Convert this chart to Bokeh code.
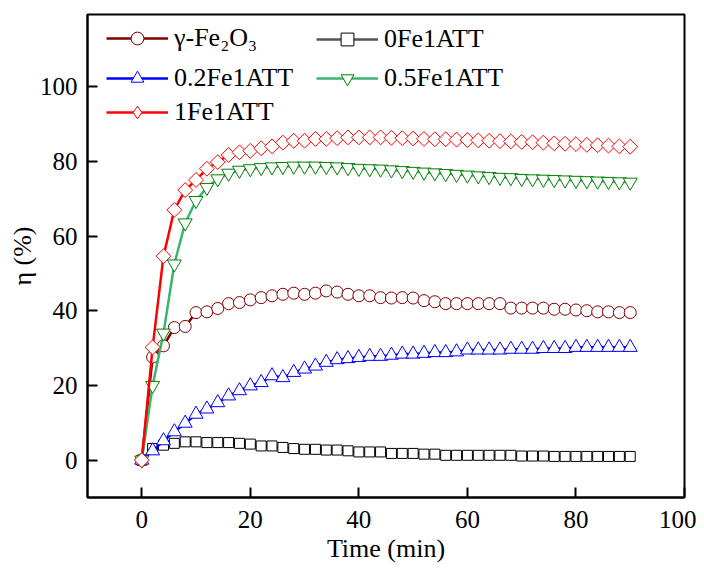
import numpy as np
from bokeh.plotting import figure
from bokeh.models import Legend, LegendItem, Range1d, FixedTicker
from bokeh.embed import file_html
from bokeh.resources import INLINE

# ---- data ----
time_min = [0, 2, 4, 6, 8, 10, 12, 14, 16, 18, 20, 22, 24, 26, 28, 30, 32, 34, 36,
            38, 40, 42, 44, 46, 48, 50, 52, 54, 56, 58, 60, 62, 64, 66, 68, 70, 72,
            74, 76, 78, 80, 82, 84, 86, 88, 90]

gamma_fe2o3 = [0, 27.6, 30.6, 35.5, 35.8, 39.5, 39.7, 40.6, 41.9, 42.2, 42.9, 43.5, 44.0,
               44.4, 44.7, 44.4, 44.7, 45.3, 45.0,
               44.4, 44.0, 44.0, 43.5, 43.4, 43.5, 43.4, 42.7, 42.4, 41.9, 41.9, 41.9,
               41.9, 41.9, 41.9, 40.7, 40.7, 40.7, 40.7, 40.4, 40.4, 40.2, 40.0, 39.7,
               39.7, 39.5, 39.5]

fe0_att = [0, 3.1, 4.0, 4.5, 4.9, 4.9, 4.7, 4.7, 4.7, 4.5, 4.3, 3.8, 3.8, 3.4, 3.1, 2.9,
           2.9, 2.7, 2.7,
           2.5, 2.2, 2.2, 2.2, 1.8, 1.8, 1.8, 1.6, 1.6, 1.3, 1.3, 1.3, 1.3, 1.3, 1.3,
           1.3, 1.1, 1.1, 1.1, 1.0, 1.0, 1.0, 1.0, 1.0, 1.0, 1.0, 1.0]

fe02_att = [0, 2.5, 5.2, 7.6, 9.9, 12.3, 13.7, 15.4, 17.2, 18.6, 19.9, 20.8, 22.6, 22.1,
            23.5, 24.4, 25.2, 26.2, 26.9,
            27.2, 27.5, 27.8, 27.8, 28.1, 28.4, 28.4, 28.6, 28.8, 28.8, 29.0, 29.5,
            29.5, 29.5, 29.5, 29.7, 29.7, 29.7, 29.9, 29.9, 29.9, 30.2, 30.2, 30.2,
            30.2, 30.2, 30.2]

fe05_att = [0, 20.0, 34.0, 52.5, 63.5, 69.5, 73.0, 75.3, 76.8, 77.6, 78.0, 78.3, 78.5,
            78.6, 78.7, 78.7, 78.7, 78.6, 78.5,
            78.3, 78.1, 78.0, 77.9, 77.7, 77.5, 77.3, 77.1, 76.9, 76.7, 76.5, 76.3,
            76.1, 75.9, 75.7, 75.6, 75.4, 75.3, 75.2, 75.1, 75.0, 74.9, 74.8, 74.7,
            74.6, 74.5, 74.4]

fe1_att = [0, 30.2, 54.6, 67.0, 72.3, 75.0, 78.0, 79.8, 81.7, 82.4, 82.8, 83.5, 84.0,
           85.0, 85.5, 85.5, 86.0, 86.0, 86.2,
           86.4, 86.4, 86.4, 86.4, 86.3, 86.2, 86.1, 86.0, 85.9, 85.9, 85.8, 85.7,
           85.6, 85.5, 85.4, 85.3, 85.2, 85.1, 85.0, 84.8, 84.7, 84.6, 84.4, 84.3,
           84.2, 84.0, 83.9]

x_ticks = [0, 20, 40, 60, 80, 100]
y_ticks = [0, 20, 40, 60, 80, 100]

series_labels = ["γ-Fe₂O₃", "0Fe1ATT", "0.2Fe1ATT", "0.5Fe1ATT", "1Fe1ATT"]

FONT = "Liberation Serif"
FRAME_W, FRAME_H = 597, 483
TOP = 14

p = figure(frame_width=FRAME_W, frame_height=FRAME_H, output_backend="svg",
           toolbar_location=None,
           x_range=Range1d(-10, 100), y_range=Range1d(-10, 119.3),
           min_border_left=87, min_border_right=12, min_border_top=TOP,
           min_border_bottom=0)
p.grid.visible = False
p.outline_line_color = "black"
p.outline_line_width = 2
p.background_fill_color = "white"
p.border_fill_color = "white"

for ax in (p.xaxis[0], p.yaxis[0]):
    ax.axis_line_width = 2
    ax.axis_line_color = "black"
    ax.major_tick_line_width = 2
    ax.major_tick_line_color = "black"
    ax.major_tick_in = 10
    ax.major_tick_out = 0
    ax.minor_tick_in = 0
    ax.minor_tick_out = 0
    ax.major_label_text_font = FONT
    ax.major_label_text_font_size = "25px"
    ax.major_label_text_color = "black"
    ax.axis_label_text_font = FONT
    ax.axis_label_text_font_size = "26px"
    ax.axis_label_text_font_style = "normal"
    ax.axis_label_text_color = "black"

p.xaxis.ticker = FixedTicker(ticks=x_ticks)
p.yaxis.ticker = FixedTicker(ticks=y_ticks)
p.xaxis.axis_label = "Time (min)"
p.yaxis.axis_label = "η (%)"
p.xaxis.major_label_standoff = 13
p.xaxis.axis_label_standoff = 3
p.yaxis.major_label_standoff = 10
p.yaxis.axis_label_standoff = 0

specs = [
    (gamma_fe2o3, "#800000", "#800000", "circle", 12, 0),
    (fe0_att, "#555555", "black", "square", 10, 0),
    (fe02_att, "#0000ff", "#0000ff", "triangle", 14, 0),
    (fe05_att, "#3cb371", "#008000", "inverted_triangle", 14, 0),
    (fe1_att, "#ff0000", "#ff0000", "square", 10.5, np.pi / 4),
]

renderers = []
for vals, lc, mc, marker, size, ang in specs:
    lr = p.line(time_min, vals, line_color=lc, line_width=2.5)
    sr = p.scatter(time_min, vals, marker=marker, size=size, angle=ang,
                   line_color=mc, line_width=1, fill_color="white")
    renderers.append([lr, sr])

# legend-only diamond (legend glyphs are drawn unrotated)
diamond_key = p.scatter(time_min, fe1_att, marker="diamond", size=16,
                        line_color="#ff0000", line_width=1, fill_color="white",
                        visible=False)
renderers[4] = [renderers[4][0], diamond_key]

item_h = 32
ref_frame_top = 16
positions = [(19, 40), (229, 41), (19, 80), (229, 80), (19, 114)]
for lab, rs, (lx, row_c) in zip(series_labels, renderers, positions):
    vy = FRAME_H - (row_c - ref_frame_top) - item_h / 2
    leg = Legend(items=[LegendItem(label=lab, renderers=rs)], location=(lx, vy),
                 glyph_width=62, glyph_height=item_h, label_height=item_h,
                 label_standoff=6, padding=0, margin=0, spacing=0,
                 border_line_color=None, background_fill_alpha=0,
                 inactive_fill_alpha=0,
                 label_text_font=FONT, label_text_font_size="26px",
                 label_text_color="black")
    p.add_layout(leg)

open("out.html", "w").write(file_html(p, INLINE))
